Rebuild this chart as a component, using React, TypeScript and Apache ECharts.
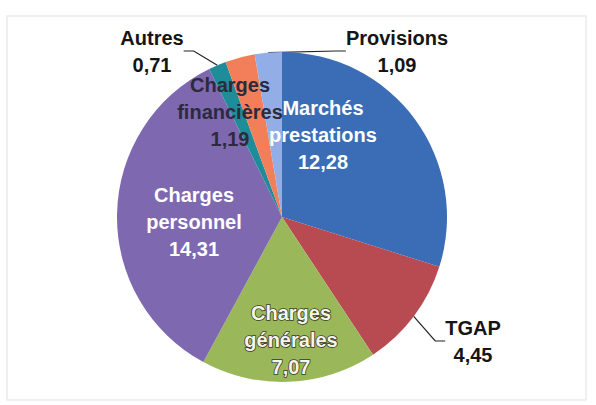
import React, { useEffect, useRef } from "react";
import * as echarts from "echarts";

const categories = [
  "Marchés prestations",
  "TGAP",
  "Charges générales",
  "Charges personnel",
  "Autres",
  "Charges financières",
  "Provisions",
];
const values = [12.28, 4.45, 7.07, 14.31, 0.71, 1.19, 1.09];

const sliceColors = ["#3a6db5", "#b84a52", "#9ab85a", "#7e68b0", "#1f8d99", "#f27e5a", "#93aee6"];
const labelColors = ["#ffffff", "#151515", "#f4f6ea", "#ffffff", "#151515", "#2c2a3c", "#151515"];
const labelOutside = [false, true, false, false, true, false, true];
const labelCenters = [
  [323, 135],
  [473, 341],
  [291, 340],
  [194, 222],
  [152, 51],
  [230, 112],
  [397, 51],
];

const FONT = "'Liberation Sans Narrow', 'Arial Narrow', 'Liberation Sans', Arial, sans-serif";

function fmt(v: number) {
  return v.toFixed(2).replace(".", ",");
}

export default function App() {
  const ref = useRef<HTMLDivElement>(null);
  useEffect(() => {
    if (!ref.current) return;
    const chart = echarts.init(ref.current, undefined, { renderer: "svg" });
    const data = categories.map((name, i) => ({
      name,
      value: values[i],
      itemStyle: { color: sliceColors[i] },
      label: {
        position: labelOutside[i] ? "outside" : "inside",
        color: labelColors[i],
        textBorderColor: i === 2 ? "#3a3a2a" : "transparent",
        textBorderWidth: i === 2 ? 1.6 : 0,
      },
      labelLine: { show: labelOutside[i], lineStyle: { color: "#222", width: 1.2 } },
    }));
    chart.setOption({
      animation: false,
      backgroundColor: "#ffffff",
      graphic: [
        {
          type: "rect",
          shape: { x: 7, y: 16, width: 579, height: 384 },
          style: { fill: "none", stroke: "#ececec", lineWidth: 1.5 },
          silent: true,
        },
      ],
      series: [
        {
          type: "pie",
          center: [282, 217],
          radius: 165,
          startAngle: 90,
          clockwise: true,
          avoidLabelOverlap: false,
          data,
          label: {
            show: true,
            fontFamily: FONT,
            fontWeight: "bold",
            fontSize: 20,
            lineHeight: 27,
            formatter: (p: any) => p.name.replace(" ", "\n") + "\n" + fmt(p.value),
          },
          labelLine: { length: 10, length2: 10, smooth: false },
          labelLayout: (p: any) => {
            const c = labelCenters[p.dataIndex];
            return { x: c[0], y: c[1], align: "center", verticalAlign: "middle" };
          },
          emphasis: { disabled: true },
        },
      ],
    });
    return () => chart.dispose();
  }, []);
  return <div ref={ref} style={{ position: "absolute", left: 0, top: 0, width: 596, height: 405 }} />;
}
